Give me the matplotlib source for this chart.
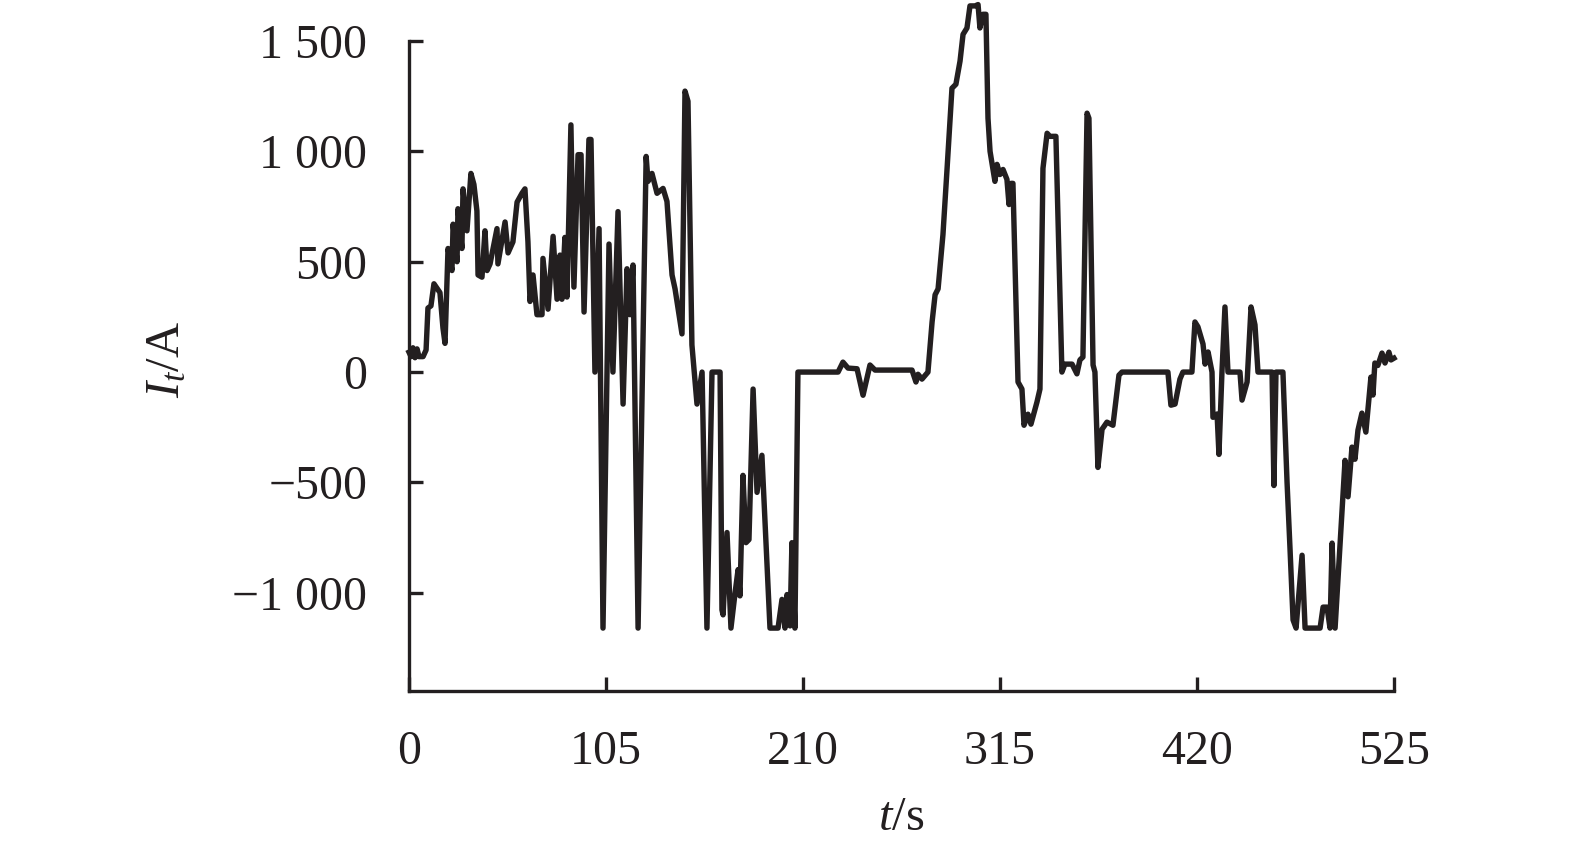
import matplotlib
matplotlib.use("Agg")
import matplotlib.pyplot as plt

# ---- data ----
t_s = [0.0, 1.1, 2.1, 3.2, 4.3, 5.3, 7.5, 9.1, 10.1, 11.7, 13.3, 14.9, 16.5, 18.1, 19.2,
       20.8, 22.9, 23.5, 25.6, 26.1, 28.2, 28.8, 30.9, 33.0, 34.6, 36.2, 36.8, 38.9, 40.5,
       41.6, 43.2, 46.9, 47.4, 51.2, 52.8, 55.4, 57.6, 60.2, 61.8, 63.4, 64.5, 66.1, 68.2,
       70.9, 71.4, 74.1, 76.8, 78.9, 80.5, 81.5, 83.1, 84.2, 86.3, 87.9, 90.1, 91.7, 93.3,
       95.9, 97.0, 99.1, 101.3, 103.4, 106.6, 108.7, 111.4, 114.1, 116.2, 117.8, 119.4,
       122.1, 126.4, 127.4, 129.5, 132.2, 135.4, 137.5, 140.2, 141.8, 145.5, 147.1, 148.7,
       150.8, 153.5, 156.2, 158.8, 161.5, 165.8, 166.8, 167.4, 169.5, 171.6, 173.8, 175.4,
       176.4, 178.0, 179.6, 181.2, 183.4, 185.5, 188.1, 192.4, 196.7, 198.8, 200.4, 201.5,
       203.1, 204.1, 205.7, 207.3, 228.7, 231.3, 234.0, 238.8, 242.0, 245.7, 248.4, 268.1,
       270.2, 271.3, 273.4, 276.6, 278.8, 280.4, 282.0, 284.6, 286.8, 289.4, 291.5, 293.7,
       295.3, 297.4, 299.0, 301.7, 303.3, 304.3, 305.9, 307.5, 308.6, 309.7, 312.3, 313.4,
       315.0, 316.6, 318.7, 319.8, 320.9, 321.9, 324.6, 326.7, 327.8, 329.9, 331.5, 334.7,
       336.3, 337.9, 340.1, 341.6, 344.8, 348.0, 349.6, 353.4, 356.0, 357.6, 359.2, 361.4,
       362.4, 364.6, 365.6, 367.2, 369.4, 372.0, 375.2, 378.4, 380.0, 404.5, 406.1, 408.3,
       410.9, 412.5, 417.3, 418.9, 420.5, 423.2, 424.3, 425.9, 428.0, 428.5, 430.7, 431.7,
       433.3, 434.9, 436.5, 442.9, 444.0, 446.7, 448.8, 450.9, 452.5, 460.0, 461.0, 462.1,
       465.8, 468.0, 469.6, 471.2, 472.8, 476.0, 477.6, 485.6, 487.2, 489.3, 490.9, 492.0,
       493.6, 498.9, 500.5, 502.6, 504.2, 505.8, 507.9, 510.0, 512.7, 513.8, 514.8,
       516.4, 518.6, 520.2, 522.3, 523.4, 525.0]

current_A = [90, 70, 110, 65, 105, 70, 70, 100, 290, 300, 400, 380, 360, 200, 130,
             560, 460, 670, 500, 740, 560, 830, 640, 900, 850, 730, 440, 430, 640,
             460, 490, 650, 490, 680, 540, 590, 770, 810, 830, 590, 320, 440, 260,
             260, 515, 285, 615, 330, 530, 330, 610, 340, 1120, 385, 985, 985, 272,
             1054, 1054, 0, 650, -1160, 580, 0, 727, -145, 468, 260, 485,
             -1160, 977, 864, 900, 810, 832, 773, 440, 377, 173, 1273, 1227,
             123, -145, 0, -1160, 0, 0, -1077, -1100, -727, -1160, -1000, -895,
             -1014, -468, -773, -759, -77, -545, -377, -1160, -1160, -1030, -1160, -1008,
             -1150, -773, -1160, 0, 0, 45, 18, 15, -105, 32, 9, 9,
             -45, -10, -32, 0, 227, 350, 377, 623, 923, 1286, 1304, 1409,
             1530, 1559, 1659, 1659, 1665, 1559, 1621, 1621, 1150, 1000, 864, 941,
             895, 918, 873, 759, 855, 855, -45, -77, -241, -191, -236, -136,
             -77, 923, 1082, 1068, 1068, 0, 36, 36, -8, 55, 68, 1173,
             1150, 32, 0, -432, -259, -227, -241, -14, 0, 0, -150, -145,
             -32, 0, 0, 227, 205, 127, 36, 91, 0, -205, -190, -373,
             0, 295, 0, 0, -127, -45, 295, 214, 0, 0, -514, 0,
             0, -500, -805, -1123, -1160, -830, -1160, -1160, -1065, -1065, -1160, -775,
             -1160, -400, -565, -340, -395, -263, -186, -272, -23, -104, 41,
             30, 86, 41, 90, 55, 63]

x_ticks = [0, 105, 210, 315, 420, 525]
x_tick_labels = ["0", "105", "210", "315", "420", "525"]
y_ticks = [-1000, -500, 0, 500, 1000, 1500]
y_tick_labels = ["\u22121 000", "\u2212500", "0", "500", "1 000", "1 500"]

# ---- style ----
plt.rcParams["font.family"] = ["Liberation Serif", "DejaVu Serif"]
plt.rcParams["mathtext.fontset"] = "custom"
plt.rcParams["mathtext.rm"] = "Liberation Serif"
plt.rcParams["mathtext.it"] = "Liberation Serif:italic"
ink = "#231f20"

fig = plt.figure(figsize=(15.75, 8.58), dpi=100)
ax = fig.add_axes([409 / 1575, 1 - 691 / 858, (1394 - 409) / 1575, (691 - 41) / 858])

ax.plot(t_s, current_A, color=ink, lw=3.9, solid_joinstyle="round", clip_on=False)

ax.set_xlim(0, 525)
ax.set_ylim(-1445, 1500)
ax.set_xticks(x_ticks)
ax.set_xticklabels(x_tick_labels)
ax.set_yticks(y_ticks)
ax.set_yticklabels(y_tick_labels)

for s in ("top", "right"):
    ax.spines[s].set_visible(False)
for s in ("left", "bottom"):
    ax.spines[s].set_linewidth(2.4)
    ax.spines[s].set_color(ink)

ax.tick_params(axis="both", direction="in", length=10, width=2.4, color=ink,
               labelsize=34.5, labelcolor=ink)
ax.tick_params(axis="x", pad=28)
ax.tick_params(axis="y", pad=30)

fig.text(167 / 1575, 1 - 359 / 858, r"$I_t$/A", rotation=90, ha="center", va="center",
         fontsize=35, color=ink)
fig.text(901 / 1575, 1 - 818 / 858, r"$t$/s", ha="center", va="center",
         fontsize=35, color=ink)

fig.savefig("out.png", dpi=100)
